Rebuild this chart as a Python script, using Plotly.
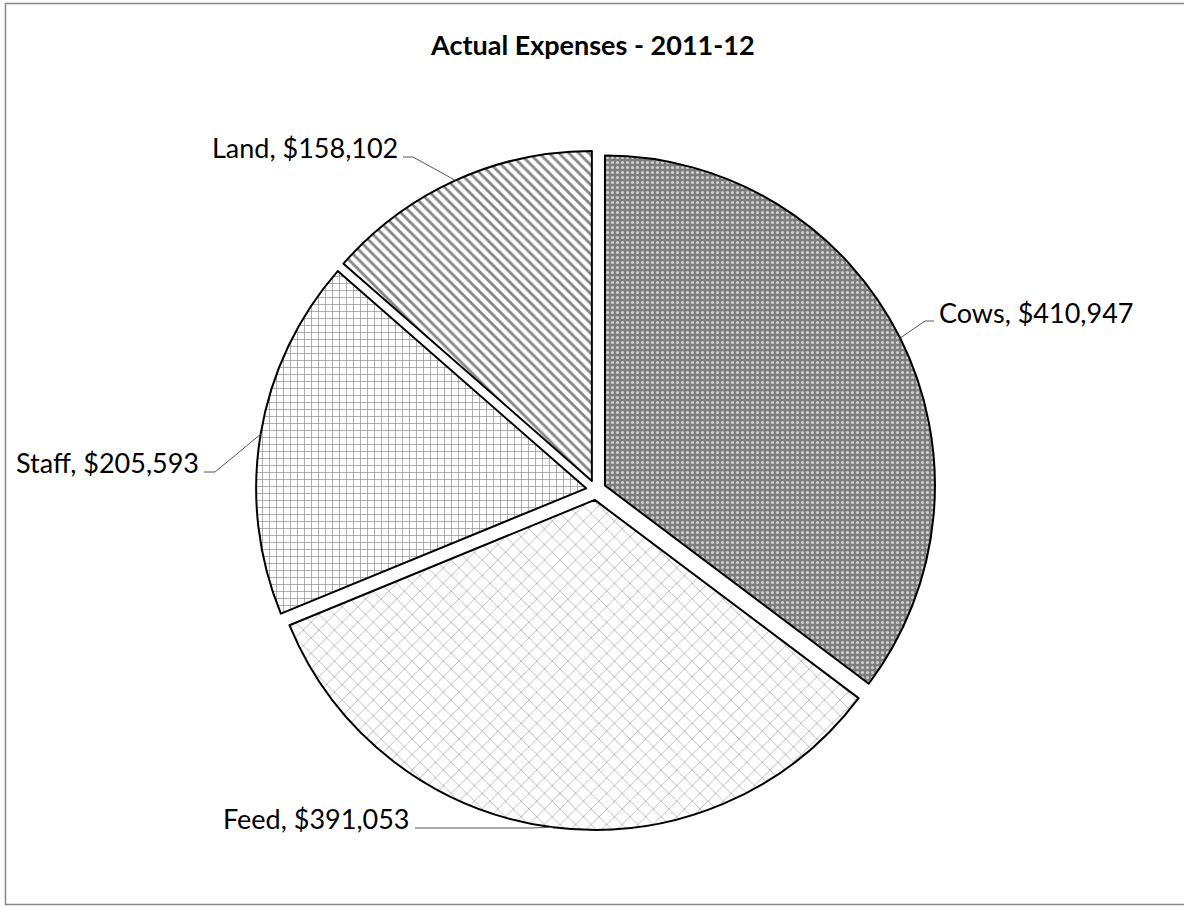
import math
import plotly.graph_objects as go

# Expense categories and amounts (USD)
categories = ["Cows", "Feed", "Staff", "Land"]
amounts = [410947, 391053, 205593, 158102]

W, H = 1184, 906
CX, CY = 596, 490          # pie centre, px
R = 330                    # pie radius, px
PULL = 0.0303              # slice explode, fraction of radius

patterns = [
    dict(shape=".", bgcolor="#7e7e7e", fgcolor="#cfcfcf", size=5, solidity=0.3),
    dict(shape="x", bgcolor="#ffffff", fgcolor="#a0a0a0", size=11, solidity=0.12),
    dict(shape="+", bgcolor="#ffffff", fgcolor="#929292", size=7, solidity=0.2),
    dict(shape="\\", bgcolor="#ffffff", fgcolor="#858585", size=7, solidity=0.4),
]

half = R * (1 + PULL)
dom_x = [(CX - half) / W, (CX + half) / W]
dom_y = [1 - (CY + half) / H, 1 - (CY - half) / H]

fig = go.Figure(go.Pie(
    labels=categories,
    values=amounts,
    sort=False,
    direction="clockwise",
    rotation=0,
    pull=[PULL] * len(amounts),
    textinfo="none",
    hoverinfo="label+value",
    marker=dict(
        colors=[p["bgcolor"] for p in patterns],
        line=dict(color="#000000", width=2),
        pattern=dict(
            shape=[p["shape"] for p in patterns],
            bgcolor=[p["bgcolor"] for p in patterns],
            fgcolor=[p["fgcolor"] for p in patterns],
            size=[p["size"] for p in patterns],
            solidity=[p["solidity"] for p in patterns],
            fillmode="replace",
        ),
    ),
    domain=dict(x=dom_x, y=dom_y),
    showlegend=False,
))

def px(x, y):
    return x / W, 1 - y / H

# Mid-angle of each slice (degrees clockwise from 12 o'clock)
total = sum(amounts)
mids = []
acc = 0.0
for v in amounts:
    frac = v / total
    mids.append((acc + frac / 2) * 360)
    acc += frac

# Label placement: (text anchor x, text centre y, xanchor, elbow x, elbow y, end x)
label_layout = {
    "Cows": (937, 312, "left", 925, 321, 934),
    "Feed": (412, 818, "right", 530, 828, 415),
    "Staff": (201, 463, "right", 215, 472, 204),
    "Land": (400, 148, "right", 413, 157, 403),
}

shapes = []
annotations = []
for name, val, mid in zip(categories, amounts, mids):
    a = math.radians(mid)
    sx = CX + half * math.sin(a)
    sy = CY - half * math.cos(a)
    tx, ty, anchor, ex, ey, endx = label_layout[name]
    p0 = px(sx, sy)
    p1 = px(ex, ey)
    p2 = px(endx, ey)
    shapes.append(dict(
        type="path", xref="paper", yref="paper",
        path=f"M{p0[0]},{p0[1]} L{p1[0]},{p1[1]} L{p2[0]},{p2[1]}",
        line=dict(color="#595959", width=1),
    ))
    ax, ay = px(tx, ty)
    annotations.append(dict(
        x=ax, y=ay, xref="paper", yref="paper",
        xanchor=anchor, yanchor="middle", showarrow=False,
        text=f"{name}, ${val:,}",
        font=dict(family="Lato, Noto Sans, sans-serif", size=27, color="#000000"),
    ))

# Title
tx, ty = px(592, 44)
annotations.append(dict(
    x=tx, y=ty, xref="paper", yref="paper", xanchor="center", yanchor="middle",
    showarrow=False, text="<b>Actual Expenses - 2011-12</b>",
    font=dict(family="Lato, Noto Sans, sans-serif", size=27, color="#000000"),
))

# Chart-area frame
fx0, fy0 = px(5.5, 3.5)
fx1, fy1 = px(1190, 904.5)
shapes.append(dict(
    type="rect", xref="paper", yref="paper", x0=fx0, y0=fy1, x1=fx1, y1=fy0,
    line=dict(color="#868686", width=1.5), layer="below",
))

fig.update_layout(
    width=W, height=H,
    margin=dict(l=0, r=0, t=0, b=0),
    paper_bgcolor="#ffffff",
    plot_bgcolor="#ffffff",
    shapes=shapes,
    annotations=annotations,
)

fig.write_html("out.html")
